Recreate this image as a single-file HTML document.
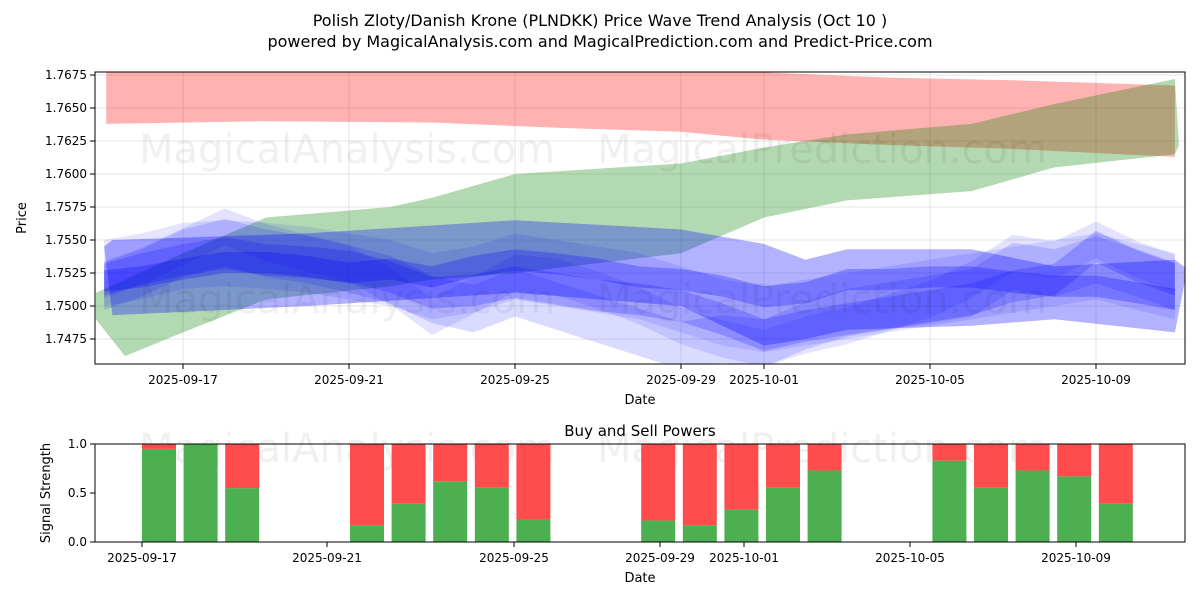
<!DOCTYPE html>
<html><head><meta charset="utf-8"><style>
body{margin:0;background:#fff;font-family:"Liberation Sans","DejaVu Sans",sans-serif}
svg text{font-family:"DejaVu Sans","Liberation Sans",sans-serif}
</style></head><body>
<svg id="c" width="1200" height="600" xmlns="http://www.w3.org/2000/svg"></svg>
<script>
// ---- data ----
const priceTicks=[1.7475,1.75,1.7525,1.755,1.7575,1.76,1.7625,1.765,1.7675];
const dateTicksTop=[0,4,8,12,14,18,22];
const dateLabelsTop=["2025-09-17","2025-09-21","2025-09-25","2025-09-29","2025-10-01","2025-10-05","2025-10-09"];
const redX=[-1.85,2,6,9,12,14,17,20,23.9];
const redHi=[1.7680,1.7680,1.7680,1.7680,1.7680,1.7677,1.7673,1.7671,1.7667];
const redLo=[1.7638,1.7640,1.7639,1.7635,1.7632,1.7626,1.7622,1.7619,1.7613];
const greenX=[-2.1,-1.4,0,2,5,6,8,12,14,16,19,21,23.9,24];
const greenHi=[1.7510,1.7520,1.7540,1.7567,1.7575,1.7582,1.7600,1.7608,1.7620,1.7630,1.7638,1.7653,1.7672,1.7622];
const greenLo=[1.7490,1.7462,1.7480,1.7505,1.7515,1.7520,1.7525,1.7540,1.7567,1.7580,1.7587,1.7605,1.7615,1.7622];
// wide light blue band
const wideX=[-1.9,-1.7,3,8,12,14,15,16,19,21,23.9,24.2];
const wideHi=[1.7545,1.7550,1.7555,1.7565,1.7558,1.7547,1.7535,1.7543,1.7543,1.7530,1.7535,1.7528];
const wideLo=[1.7545,1.7493,1.7500,1.7510,1.7500,1.7470,1.7475,1.7482,1.7485,1.7490,1.7480,1.7528];
const blueX=[-1.9,-1,0,1,2,3,4,5,6,7,8,9,10,11,12,13,14,15,16,17,18,19,20,21,22,23,23.9];
const blueCenters=[
 [1.7519,1.7522,1.7528,1.7533,1.7533,1.7530,1.7525,1.7528,1.7522,1.7530,1.7535,1.7532,1.7528,1.7522,1.7520,1.7515,1.7507,1.7510,1.7520,1.7520,1.7522,1.7522,1.7518,1.7515,1.7515,1.7510,1.7505],
 [1.7520,1.7528,1.7535,1.7540,1.7535,1.7533,1.7530,1.7522,1.7510,1.7512,1.7518,1.7513,1.7508,1.7505,1.7500,1.7490,1.7478,1.7485,1.7490,1.7495,1.7500,1.7505,1.7515,1.7520,1.7545,1.7530,1.7520],
 [1.7515,1.7525,1.7540,1.7548,1.7540,1.7535,1.7528,1.7520,1.7505,1.7498,1.7510,1.7500,1.7490,1.7480,1.7470,1.7475,1.7472,1.7485,1.7495,1.7500,1.7505,1.7510,1.7530,1.7525,1.7535,1.7525,1.7515],
 [1.7520,1.7530,1.7545,1.7560,1.7548,1.7540,1.7532,1.7515,1.7492,1.7508,1.7525,1.7522,1.7512,1.7500,1.7485,1.7475,1.7468,1.7478,1.7485,1.7495,1.7505,1.7520,1.7540,1.7535,1.7550,1.7535,1.7525],
 [1.7525,1.7530,1.7538,1.7540,1.7538,1.7535,1.7530,1.7525,1.7515,1.7520,1.7530,1.7525,1.7520,1.7515,1.7505,1.7495,1.7490,1.7495,1.7500,1.7505,1.7510,1.7515,1.7520,1.7525,1.7530,1.7522,1.7515]
];
const blueHalf=[0.0008,0.0012,0.0018,0.0014,0.0025];
const blueAlpha=[0.26,0.2,0.14,0.11,0.1];
const barDays=[0,1,2,5,6,7,8,9,12,13,14,15,16,19,20,21,22,23];
const buyVals=[0.95,1.0,0.55,0.17,0.39,0.62,0.56,0.23,0.22,0.17,0.33,0.56,0.73,0.83,0.56,0.73,0.67,0.39];
const sigTicks=[0,0.5,1];
const botTickPx=[142,327,514,660,744,910,1076];

const svg=document.getElementById('c');const NS='http://www.w3.org/2000/svg';
function el(t,a,p){const e=document.createElementNS(NS,t);for(const k in a)e.setAttribute(k,a[k]);(p||svg).appendChild(e);return e;}
function tx(x,y,s,size,anchor,p){const e=el('text',{x:x,y:y,'font-size':size||12,'text-anchor':anchor||'middle',fill:'#000'},p);e.textContent=s;return e;}
const X=d=>183+d*41.5, Y=v=>75+(1.7675-v)*13200;
const XB=d=>142+d*41.6, YB=v=>542-v*98;

let t=tx(600,26,'Polish Zloty/Danish Krone (PLNDKK) Price Wave Trend Analysis (Oct 10 )',16);

t=tx(600,47,'powered by MagicalAnalysis.com and MagicalPrediction.com and Predict-Price.com',16);


const gTop=el('g',{});
const cpd=el('clipPath',{id:'cp'});el('rect',{x:95,y:72,width:1090,height:292},cpd);
priceTicks.forEach(v=>{el('line',{x1:95,x2:1185,y1:Y(v),y2:Y(v),stroke:'#ddd','stroke-width':0.8},gTop);el('line',{x1:90,x2:95,y1:Y(v),y2:Y(v),stroke:'#000'},gTop);tx(87,Y(v)+4,v.toFixed(4),12,'end',gTop);});
dateTicksTop.forEach((d,i)=>{el('line',{x1:X(d),x2:X(d),y1:72,y2:364,stroke:'#ddd','stroke-width':0.8},gTop);el('line',{x1:X(d),x2:X(d),y1:364,y2:369,stroke:'#000'},gTop);tx(X(d),384,dateLabelsTop[i],12,'middle',gTop);});
const bands=el('g',{'clip-path':'url(#cp)'},gTop);
function band(xs,hi,lo,fill,op,name){let d='M'+xs.map((x,i)=>X(x)+','+Y(hi[i])).join('L');for(let i=xs.length-1;i>=0;i--)d+='L'+X(xs[i])+','+Y(lo[i]);d+='Z';const p=el('path',{d:d,fill:fill,'fill-opacity':op},bands);}
band(redX,redHi,redLo,'#ff0000',0.3,'red-band');
band(greenX,greenHi,greenLo,'#008000',0.3,'green-band');
band(wideX,wideHi,wideLo,'#0000ff',0.3,'blue-wide-band');
blueCenters.forEach((c,k)=>band(blueX,c.map(v=>v+blueHalf[k]),c.map(v=>v-blueHalf[k]),'#0000ff',blueAlpha[k],'blue-band-'+k));
[[347,163,'MagicalAnalysis.com'],[822,163,'MagicalPrediction.com'],[347,313,'MagicalAnalysis.com'],[822,313,'MagicalPrediction.com']].forEach(w=>{const e=tx(w[0],w[1],w[2],40,'middle',gTop);e.setAttribute('fill-opacity',0.06);});
el('rect',{x:95,y:72,width:1090,height:292,fill:'none',stroke:'#000','stroke-width':1},gTop);
t=tx(640,404,'Date',13,'middle',gTop);
t=tx(0,0,'Price',13,'middle',gTop);t.setAttribute('transform','translate(26,218) rotate(-90)');

const gB=el('g',{});
tx(640,436,'Buy and Sell Powers',15,'middle',gB);
[[347,462,'MagicalAnalysis.com'],[822,462,'MagicalPrediction.com']].forEach(w=>{const e=tx(w[0],w[1],w[2],40,'middle',gB);e.setAttribute('fill-opacity',0.06);});
sigTicks.forEach(v=>{el('line',{x1:90,x2:95,y1:YB(v),y2:YB(v),stroke:'#000'},gB);tx(87,YB(v)+4,v.toFixed(1),12,'end',gB);});
botTickPx.forEach((x,i)=>{el('line',{x1:x,x2:x,y1:542,y2:547,stroke:'#000'},gB);tx(x,562,dateLabelsTop[i],12,'middle',gB);});
barDays.forEach((d,i)=>{
 const g=el('rect',{x:XB(d),y:YB(buyVals[i]),width:34,height:YB(0)-YB(buyVals[i]),fill:'#4caf50'},gB);
 
 const r=el('rect',{x:XB(d),y:YB(1),width:34,height:YB(buyVals[i])-YB(1),fill:'#ff4c4c'},gB);
 
});
el('rect',{x:95,y:444,width:1090,height:98,fill:'none',stroke:'#000','stroke-width':1},gB);
tx(640,582,'Date',13,'middle',gB);
t=tx(0,0,'Signal Strength',13,'middle',gB);t.setAttribute('transform','translate(50,493) rotate(-90)');
</script>
</body></html>
